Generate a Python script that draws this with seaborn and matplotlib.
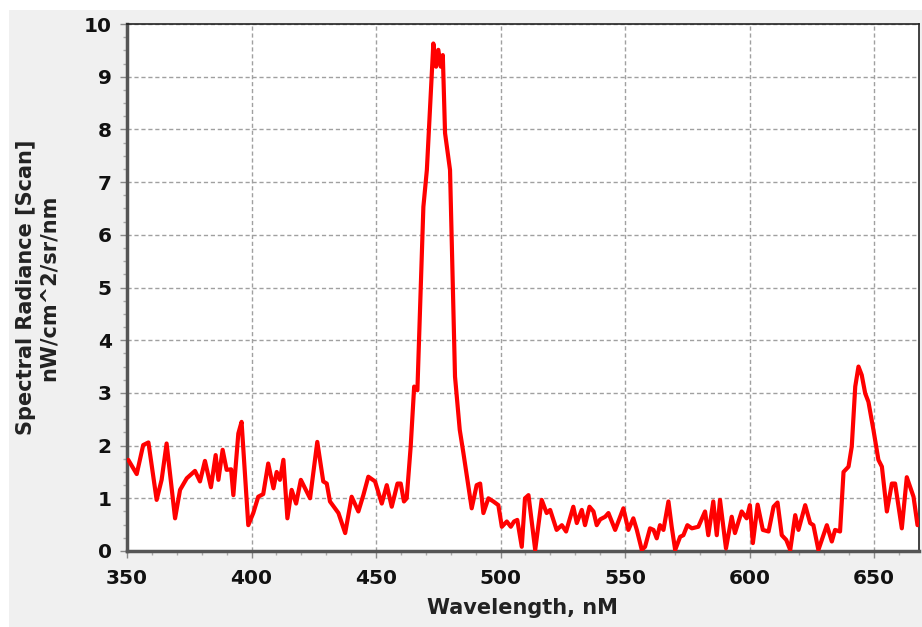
import matplotlib
matplotlib.use("Agg")
import matplotlib.pyplot as plt
from matplotlib.patches import Rectangle
from matplotlib.ticker import MultipleLocator
import seaborn as sns
import pandas as pd

wavelength = [
    350.5, 353.9, 356.5, 358.6, 361.9, 363.9, 365.9, 369.3, 371.3, 374.0,
    377.3, 379.3, 381.3, 383.7, 385.6, 386.7, 388.4, 390.0, 391.8, 392.7,
    394.7, 396.0, 397.1, 398.7, 400.7, 402.7, 404.7, 406.7, 408.8, 410.1,
    411.4, 412.8, 414.4, 416.1, 417.9, 419.8, 423.5, 426.4, 428.8, 430.2,
    431.5, 434.9, 437.6, 440.2, 442.9, 444.9, 446.9, 449.6, 452.3, 454.3,
    456.3, 458.6, 459.9, 461.2, 462.3, 463.9, 465.3, 466.6, 469.0, 470.4,
    473.0, 474.1, 475.0, 476.0, 476.8, 477.7, 479.7, 481.7, 483.6, 485.1,
    488.4, 490.4, 491.8, 493.1, 495.1, 497.1, 499.1, 500.5, 502.5, 504.1,
    505.4, 506.7, 508.5, 509.8, 511.2, 513.9, 516.5, 518.5, 519.9, 522.5,
    524.6, 526.3, 529.2, 530.6, 532.6, 533.9, 535.7, 537.3, 538.6, 540.0,
    542.0, 543.3, 546.0, 549.3, 551.3, 553.3, 554.7, 556.7, 558.0, 560.0,
    561.4, 562.7, 564.0, 565.4, 567.4, 568.7, 570.1, 572.1, 573.4, 575.0,
    576.8, 579.4, 582.1, 583.4, 585.4, 586.8, 588.1, 590.5, 592.8, 594.1,
    596.8, 598.8, 600.1, 601.3, 603.2, 605.3, 607.6, 609.6, 611.2, 612.9,
    614.7, 616.3, 618.3, 619.6, 622.3, 624.3, 625.6, 627.6, 631.0, 633.0,
    634.3, 636.3, 637.7, 639.7, 641.0, 642.4, 643.7, 645.0, 646.4, 647.7,
    649.7, 651.7, 653.1, 655.1, 657.1, 658.4, 661.1, 663.1, 665.8, 667.4,
]
radiance = [
    1.73, 1.46, 2.01, 2.06, 0.97, 1.35, 2.04, 0.62, 1.16, 1.38,
    1.52, 1.32, 1.71, 1.21, 1.82, 1.35, 1.92, 1.54, 1.55, 1.06,
    2.23, 2.45, 1.66, 0.49, 0.72, 1.03, 1.08, 1.66, 1.19, 1.50,
    1.35, 1.73, 0.62, 1.16, 0.90, 1.35, 1.00, 2.07, 1.32, 1.28,
    0.94, 0.72, 0.34, 1.03, 0.75, 1.06, 1.41, 1.32, 0.90, 1.25,
    0.84, 1.28, 1.28, 0.94, 1.00, 1.98, 3.12, 3.05, 6.53, 7.23,
    9.63, 9.19, 9.51, 9.19, 9.41, 7.93, 7.23, 3.31, 2.30, 1.85,
    0.81, 1.25, 1.28, 0.72, 1.00, 0.94, 0.87, 0.46, 0.56, 0.46,
    0.56, 0.59, 0.08, 1.00, 1.06, 0.02, 0.97, 0.72, 0.78, 0.40,
    0.49, 0.37, 0.84, 0.53, 0.78, 0.49, 0.84, 0.75, 0.49, 0.60,
    0.65, 0.72, 0.40, 0.81, 0.40, 0.62, 0.40, 0.02, 0.08, 0.43,
    0.40, 0.24, 0.49, 0.40, 0.94, 0.46, 0.02, 0.27, 0.30, 0.49,
    0.43, 0.46, 0.75, 0.30, 0.94, 0.30, 0.97, 0.05, 0.65, 0.34,
    0.75, 0.62, 0.87, 0.15, 0.88, 0.40, 0.37, 0.84, 0.92, 0.30,
    0.21, 0.02, 0.68, 0.40, 0.87, 0.53, 0.49, 0.02, 0.49, 0.18,
    0.40, 0.37, 1.50, 1.60, 1.98, 3.12, 3.50, 3.34, 2.99, 2.83,
    2.30, 1.73, 1.60, 0.75, 1.28, 1.28, 0.43, 1.40, 1.03, 0.49,
]

x_ticks = [350, 400, 450, 500, 550, 600, 650]
y_ticks = list(range(0, 11))

df = pd.DataFrame({"wavelength": wavelength, "radiance": radiance})

sns.set_style("white")
plt.rcParams["font.family"] = ["DejaVu Sans"]

fig = plt.figure(figsize=(9.22, 6.27), dpi=100, facecolor="white")
fig.patches.append(Rectangle((9 / 922, 0), 1 - 9 / 922, 1 - 10 / 627,
                             transform=fig.transFigure, facecolor="#f0f0f0",
                             edgecolor="none", zorder=-10))
ax = fig.add_axes([127 / 922, 1 - 551 / 627, (919 - 127) / 922, (551 - 24) / 627])
ax.set_zorder(5)
ax.set_facecolor("white")

sns.lineplot(data=df, x="wavelength", y="radiance", ax=ax, sort=False,
             estimator=None, color="#ff0000", linewidth=3.0, zorder=3)

ax.set_xlim(350, 668)
ax.set_ylim(0, 10)
ax.set_xticks(x_ticks)
ax.set_yticks(y_ticks)
ax.xaxis.set_minor_locator(MultipleLocator(10))
ax.yaxis.set_minor_locator(MultipleLocator(0.25))

ax.grid(True, which="major", color="#a0a0a0", linestyle=(0, (3, 2)), linewidth=1.0)
ax.set_axisbelow(True)

for side in ["left", "bottom"]:
    ax.spines[side].set_linewidth(2.5)
    ax.spines[side].set_color("#555555")
for side in ["top", "right"]:
    ax.spines[side].set_linewidth(1.2)
    ax.spines[side].set_color("#222222")
    ax.spines[side].set_visible(True)

ax.tick_params(axis="both", which="major", direction="out", length=5, width=1,
               color="#888888", labelsize=14.5, bottom=True, left=True)
ax.tick_params(axis="x", which="major", pad=8)
ax.tick_params(axis="y", which="major", pad=6)
ax.tick_params(axis="both", which="minor", direction="out", length=3, width=1,
               color="#aaaaaa", bottom=True, left=True)
for lbl in ax.get_xticklabels() + ax.get_yticklabels():
    lbl.set_fontweight("bold")
    lbl.set_color("#111111")

ax.set_xlabel("Wavelength, nM", fontsize=15, fontweight="bold", color="#222222")
ax.xaxis.set_label_coords(0.499, -0.089)
ax.set_ylabel("Spectral Radiance [Scan]\nnW/cm^2/sr/nm", fontsize=15,
              fontweight="bold", color="#222222", linespacing=1.15)
ax.yaxis.set_label_coords(-0.086, 0.5)

fig.savefig("out.png", dpi=100, facecolor=fig.get_facecolor())
